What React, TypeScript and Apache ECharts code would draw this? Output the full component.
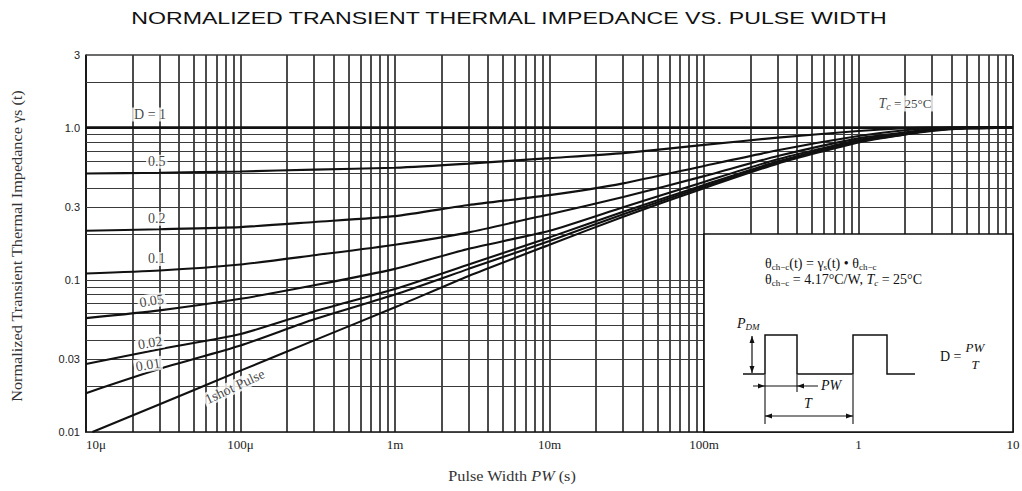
import React, { useEffect, useRef } from "react";
import * as echarts from "echarts";

// ---------------- data ----------------
const pulseWidth = [1e-5, 3e-5, 1e-4, 3e-4, 1e-3, 3e-3, 1e-2, 3e-2, 0.1, 0.3, 1, 2, 3, 5, 10];
const singlePulseWidth = [1.1e-5, 3e-5, 1e-4, 3e-4, 1e-3, 3e-3, 1e-2, 3e-2, 0.1, 0.3, 1, 2, 3, 5, 10];

const rD1 = [1, 1, 1, 1, 1, 1, 1, 1, 1, 1, 1, 1, 1, 1, 1];
const rD05 = [0.5, 0.505, 0.515, 0.53, 0.545, 0.58, 0.63, 0.68, 0.77, 0.86, 0.95, 0.99, 1.0, 1.0, 1.0];
const rD02 = [0.21, 0.215, 0.222, 0.24, 0.262, 0.31, 0.36, 0.43, 0.56, 0.71, 0.88, 0.96, 0.99, 1.0, 1.0];
const rD01 = [0.11, 0.115, 0.126, 0.145, 0.17, 0.205, 0.27, 0.35, 0.48, 0.65, 0.85, 0.93, 0.98, 1.0, 1.0];
const rD005 = [0.056, 0.063, 0.075, 0.092, 0.118, 0.16, 0.21, 0.3, 0.44, 0.62, 0.83, 0.92, 0.97, 0.99, 1.0];
const rD002 = [0.028, 0.035, 0.044, 0.062, 0.087, 0.126, 0.19, 0.28, 0.42, 0.6, 0.82, 0.91, 0.96, 0.99, 1.0];
const rD001 = [0.018, 0.026, 0.037, 0.055, 0.08, 0.118, 0.18, 0.27, 0.41, 0.59, 0.81, 0.9, 0.96, 0.99, 1.0];
const rSingle = [0.01, 0.0152, 0.0253, 0.04, 0.066, 0.106, 0.17, 0.26, 0.4, 0.58, 0.8, 0.9, 0.95, 0.99, 1.0];

const seriesNames = ["D = 1", "0.5", "0.2", "0.1", "0.05", "0.02", "0.01", "1shot Pulse"];

// curve labels (data coordinates)
const curveLabelText = ["D = 1", "0.5", "0.2", "0.1", "0.05", "0.02", "0.01", "1shot Pulse"];
const curveLabelX = [2.6e-5, 2.87e-5, 2.87e-5, 2.87e-5, 2.66e-5, 2.6e-5, 2.52e-5, 9.2e-5];
const curveLabelY = [1.22, 0.597, 0.252, 0.137, 0.0728, 0.0385, 0.0276, 0.0199];
const curveLabelRotate = [0, 0, 0, 0, 9, 9, 9, 25];

const tcLabelX = [2.0];
const tcLabelY = [1.44];

// ticks
const xTickLabels = ["10μ", "100μ", "1m", "10m", "100m", "1", "10"];
const yTickValues = [0.01, 0.03, 0.1, 0.3, 1, 3];
const yTickLabels = ["0.01", "0.03", "0.1", "0.3", "1.0", "3"];

// grid lines
const gridMantissas = [1, 2, 3, 4, 5, 6, 7, 8, 9];
const xGridDecades = [1e-5, 1e-4, 1e-3, 1e-2, 1e-1, 1];
const xGridEnd = [10];
const yGridDecades = [0.01, 0.1];
const yGridTop = [1, 2, 3];

// inset box (data coordinates of its corners)
const boxX = [0.1, 10];
const boxY = [0.01, 0.2];

const TITLE = "NORMALIZED TRANSIENT THERMAL IMPEDANCE VS. PULSE WIDTH";

export default function App() {
  const ref = useRef<HTMLDivElement>(null);

  useEffect(() => {
    if (!ref.current) return;
    const chart = echarts.init(ref.current, null, { renderer: "svg" });

    const xGrid: number[] = [];
    xGridDecades.forEach((d) => gridMantissas.forEach((m) => xGrid.push(m * d)));
    xGridEnd.forEach((v) => xGrid.push(v));
    const yGrid: number[] = [];
    yGridDecades.forEach((d) => gridMantissas.forEach((m) => yGrid.push(m * d)));
    yGridTop.forEach((v) => yGrid.push(v));

    const markData: any[] = [];
    xGrid.forEach((v) =>
      markData.push({
        xAxis: v,
        lineStyle: { color: "#111", width: v >= 9.99 ? 1.7 : 1.5, type: "solid" },
      })
    );
    yGrid.forEach((v) =>
      markData.push({
        yAxis: v,
        lineStyle: { color: "#3a3a3a", width: v >= 2.99 ? 1.7 : 1.2, type: "solid" },
      })
    );

    const curves = [rD1, rD05, rD02, rD01, rD005, rD002, rD001, rSingle];

    const curveSeries = curves.map((vals, i) => {
      const xs = i === curves.length - 1 ? singlePulseWidth : pulseWidth;
      return {
        name: seriesNames[i],
        type: "line",
        data: xs.map((x, j) => [x, vals[j]]),
        showSymbol: false,
        symbol: "none",
        smooth: i === 0 ? false : 0.2,
        z: 4,
        silent: true,
        lineStyle: { color: "#111", width: i === 0 ? 2.8 : 2.1 },
        ...(i === 0
          ? {
              markLine: {
                silent: true,
                symbol: ["none", "none"],
                precision: 12,
                z: 1,
                label: { show: false },
                emphasis: { disabled: true },
                animation: false,
                data: markData,
              },
            }
          : {}),
      };
    });

    const labelData: any[] = curveLabelText.map((t, i) => ({
      value: [curveLabelX[i], curveLabelY[i]],
      label: { formatter: t, rotate: curveLabelRotate[i] },
    }));
    labelData.push({
      value: [tcLabelX[0], tcLabelY[0]],
      label: {
        formatter: "{i|T}{s|c}{n| = 25°C}",
        rich: {
          i: { fontFamily: "Liberation Serif", fontStyle: "italic", fontSize: 14, color: "#111" },
          s: { fontFamily: "Liberation Serif", fontStyle: "italic", fontSize: 10, color: "#111", verticalAlign: "bottom", padding: [6, 0, 0, 0] },
          n: { fontFamily: "Liberation Serif", fontSize: 13, color: "#111" },
        },
      },
    });

    const option: any = {
      animation: false,
      backgroundColor: "#fff",
      grid: { left: 86, right: 9, top: 55, bottom: 59, containLabel: false, outerBoundsMode: "none" },
      xAxis: {
        type: "log",
        logBase: 10,
        min: 1e-5,
        max: 10,
        axisLine: { show: true, onZero: false, lineStyle: { color: "#111", width: 1.7 } },
        axisTick: { show: false },
        splitLine: { show: false },
        axisLabel: {
          showMinLabel: true,
          showMaxLabel: true,
          alignMinLabel: "left",
          margin: 6,
          fontFamily: "Liberation Serif",
          fontSize: 13,
          color: "#222",
          formatter: (v: number) => {
            const i = Math.round(Math.log10(v)) + 5;
            return xTickLabels[i] ?? "";
          },
        },
      },
      yAxis: {
        type: "log",
        logBase: 10,
        min: 0.01,
        max: 3,
        axisLine: { show: true, onZero: false, lineStyle: { color: "#111", width: 1.7 } },
        axisTick: { show: false },
        splitLine: { show: false },
        axisLabel: {
          customValues: yTickValues,
          showMinLabel: true,
          showMaxLabel: true,
          margin: 6,
          fontFamily: "Liberation Sans",
          fontSize: 11,
          color: "#222",
          formatter: (v: number) => {
            const i = yTickValues.findIndex((t) => Math.abs(t - v) / t < 1e-4);
            return i >= 0 ? yTickLabels[i] : "";
          },
        },
      },
      series: [
        ...curveSeries,
        {
          name: "labels",
          type: "scatter",
          silent: true,
          z: 6,
          symbolSize: 1,
          itemStyle: { color: "rgba(0,0,0,0)" },
          label: {
            show: true,
            position: "inside",
            fontFamily: "Liberation Serif",
            fontSize: 14,
            color: "#111",
            backgroundColor: "#fff",
            padding: [0, 2, 0, 2],
          },
          data: labelData,
        },
      ],
    };

    chart.setOption(option);

    // inset box from data corners
    let p0 = chart.convertToPixel({ gridIndex: 0 }, [boxX[0], boxY[1]]) as number[];
    let p1 = chart.convertToPixel({ gridIndex: 0 }, [boxX[1], boxY[0]]) as number[];
    if (!p0 || !p1 || isNaN(p0[0])) {
      p0 = [704, 232];
      p1 = [1013, 432];
    }
    const bx = p0[0];
    const by = p0[1];
    const stroke = "#111";
    const Z = 60;
    const ln = (x1: number, y1: number, x2: number, y2: number, w = 1.3) => ({
      type: "line",
      z: Z,
      silent: true,
      shape: { x1: bx + x1, y1: by + y1, x2: bx + x2, y2: by + y2 },
      style: { stroke, lineWidth: w },
    });
    const arrow = (tx: number, ty: number, dir: "l" | "r" | "u" | "d") => {
      const L = 7;
      const W = 2.5;
      let pts: number[][];
      if (dir === "r") pts = [[tx, ty], [tx - L, ty - W], [tx - L, ty + W]];
      else if (dir === "l") pts = [[tx, ty], [tx + L, ty - W], [tx + L, ty + W]];
      else if (dir === "u") pts = [[tx, ty], [tx - W, ty + L], [tx + W, ty + L]];
      else pts = [[tx, ty], [tx - W, ty - L], [tx + W, ty - L]];
      return {
        type: "polygon",
        z: Z,
        silent: true,
        shape: { points: pts.map((p) => [bx + p[0], by + p[1]]) },
        style: { fill: stroke },
      };
    };
    const txt = (x: number, y: number, text: string, extra: any = {}) => ({
      type: "text",
      z: Z,
      silent: true,
      x: bx + x,
      y: by + y,
      style: {
        text,
        fontFamily: "Liberation Serif",
        fontSize: 14,
        fill: "#111",
        align: "left",
        verticalAlign: "middle",
        textAlign: "left",
        textVerticalAlign: "middle",
        ...extra,
      },
    });
    const richSerif = {
      n: { fontFamily: "Liberation Serif", fontSize: 14, fill: "#111", color: "#111" },
      it: { fontFamily: "Liberation Serif", fontStyle: "italic", fontSize: 14, fill: "#111", color: "#111" },
      sub: { fontFamily: "Liberation Serif", fontSize: 9, fill: "#111", color: "#111", verticalAlign: "bottom", padding: [7, 0, 0, 0] },
      isub: { fontFamily: "Liberation Serif", fontStyle: "italic", fontSize: 9, fill: "#111", color: "#111", verticalAlign: "bottom", padding: [7, 0, 0, 0] },
    };

    const graphics: any[] = [
      // title
      {
        type: "text",
        z: Z,
        silent: true,
        x: 509,
        y: 18,
        scaleX: 1.36,
        style: {
          text: TITLE,
          fontFamily: "Liberation Sans",
          fontSize: 17,
          fill: "#111",
          align: "center",
          verticalAlign: "middle",
          textAlign: "center",
          textVerticalAlign: "middle",
        },
      },
      // y axis title
      {
        type: "text",
        z: Z,
        silent: true,
        x: 17,
        y: 246,
        rotation: Math.PI / 2,
        scaleX: 1.08,
        style: {
          text: "Normalized Transient Thermal Impedance γs (t)",
          fontFamily: "Liberation Serif",
          fontSize: 15,
          fill: "#333",
          align: "center",
          verticalAlign: "middle",
          textAlign: "center",
          textVerticalAlign: "middle",
        },
      },
      // x axis title
      {
        type: "text",
        z: Z,
        silent: true,
        x: 512,
        y: 476,
        scaleX: 1.08,
        style: {
          text: "{n|Pulse Width }{it|PW}{n| (s)}",
          rich: {
            n: { fontFamily: "Liberation Serif", fontSize: 15, fill: "#333", color: "#333" },
            it: { fontFamily: "Liberation Serif", fontStyle: "italic", fontSize: 15, fill: "#333", color: "#333" },
          },
          align: "center",
          verticalAlign: "middle",
          textAlign: "center",
          textVerticalAlign: "middle",
        },
      },
      // inset box
      {
        type: "rect",
        z: 50,
        silent: true,
        shape: { x: p0[0], y: p0[1], width: p1[0] - p0[0], height: p1[1] - p0[1] },
        style: { fill: "#fff", stroke, lineWidth: 1.6 },
      },
      txt(61, 30, "{n|θ}{sub|ch−c}{n|(t) = γ}{sub|s}{n|(t) • θ}{sub|ch−c}", { rich: richSerif }),
      txt(61, 46, "{n|θ}{sub|ch−c}{n| = 4.17°C/W, }{it|T}{isub|c}{n| = 25°C}", { rich: richSerif }),
      // waveform
      {
        type: "polyline",
        z: Z,
        silent: true,
        shape: {
          points: [
            [39, 140], [61, 140], [61, 101], [93, 101], [93, 140],
            [149, 140], [149, 101], [183, 101], [183, 140], [211, 140],
          ].map((p) => [bx + p[0], by + p[1]]),
        },
        style: { stroke, lineWidth: 1.5, fill: null },
      },
      txt(33, 90, "{it|P}{isub|DM}", { rich: richSerif }),
      ln(48, 102, 48, 139, 1.2),
      arrow(48, 102, "u"),
      arrow(48, 139, "d"),
      ln(61, 141, 61, 190, 1.1),
      ln(93, 141, 93, 158, 1.1),
      ln(149, 141, 149, 190, 1.1),
      ln(49, 152, 114, 152, 1.1),
      arrow(61, 152, "r"),
      arrow(93, 152, "l"),
      txt(117, 152, "PW", { fontStyle: "italic" }),
      ln(61, 182, 149, 182, 1.1),
      arrow(61, 182, "l"),
      arrow(149, 182, "r"),
      txt(104, 170, "T", { fontStyle: "italic", align: "center", textAlign: "center" }),
      txt(236, 123, "D ="),
      txt(271, 114, "PW", { fontStyle: "italic", fontSize: 13, align: "center", textAlign: "center" }),
      txt(271, 131, "T", { fontStyle: "italic", fontSize: 13, align: "center", textAlign: "center" }),
    ];

    chart.setOption({ graphic: graphics });

    return () => chart.dispose();
  }, []);

  return (
    <div
      ref={ref}
      style={{ position: "fixed", left: 0, top: 0, width: 1022, height: 491, background: "#fff" }}
    />
  );
}
